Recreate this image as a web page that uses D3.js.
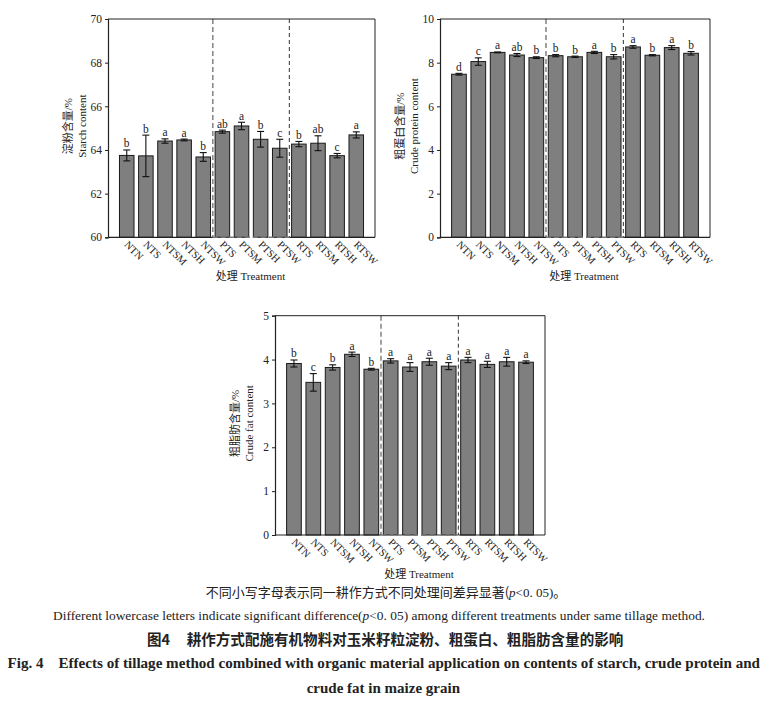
<!DOCTYPE html>
<html>
<head>
<meta charset="utf-8">
<script src="https://cdn.jsdelivr.net/npm/d3@7"></script>
<style>
  html, body { margin: 0; padding: 0; background: #fff; }
  svg { display: block; }
  text { fill: #222; }
</style>
</head>
<body>
<svg id="chart" width="770" height="703"></svg>
<script>
// ---------------- data ----------------
const treatments = ["NTN","NTS","NTSM","NTSH","NTSW","PTS","PTSM","PTSH","PTSW","RTS","RTSM","RTSH","RTSW"];

const starchMean    = [63.75, 63.73, 64.41, 64.46, 63.68, 64.84, 65.10, 64.49, 64.08, 64.27, 64.31, 63.74, 64.69];
const starchErr     = [0.25, 0.95, 0.10, 0.04, 0.20, 0.07, 0.17, 0.36, 0.41, 0.12, 0.34, 0.10, 0.14];
const starchLetters = ["b","b","a","a","b","ab","a","b","c","b","ab","c","a"];
const starchTicks   = [60, 62, 64, 66, 68, 70];

const proteinMean    = [7.47, 8.05, 8.47, 8.35, 8.23, 8.32, 8.27, 8.47, 8.27, 8.72, 8.34, 8.69, 8.43];
const proteinErr     = [0.04, 0.17, 0.02, 0.07, 0.04, 0.05, 0.03, 0.05, 0.10, 0.06, 0.03, 0.09, 0.08];
const proteinLetters = ["d","c","a","ab","b","b","b","a","b","a","b","a","b"];
const proteinTicks   = [0, 2, 4, 6, 8, 10];

const fatMean    = [3.91, 3.48, 3.82, 4.12, 3.78, 3.97, 3.83, 3.95, 3.85, 3.99, 3.89, 3.95, 3.94];
const fatErr     = [0.08, 0.20, 0.06, 0.05, 0.02, 0.05, 0.10, 0.08, 0.08, 0.06, 0.07, 0.10, 0.03];
const fatLetters = ["b","c","b","a","b","a","a","a","a","a","a","a","a"];
const fatTicks   = [0, 1, 2, 3, 4, 5];

const groupBreaks = ["PTS", "RTS"];   // first treatment of each new tillage group

const xTitle = "处理 Treatment";

// ---------------- drawing ----------------
const svg = d3.select("#chart");
const SERIF = "'Liberation Serif','Times New Roman','Noto Sans CJK SC',serif";
const CJK = "'Noto Sans CJK SC','Liberation Serif',sans-serif";

function drawPanel(cfg) {
  const { left, top, width, height, ticks, mean, err, letters, yTitle } = cfg;
  const g = svg.append("g").attr("transform", `translate(${left},${top})`);

  const x = d3.scaleBand().domain(treatments).range([0, width])
    .paddingInner(0.24).paddingOuter(0.6);
  const y = d3.scaleLinear().domain([ticks[0], ticks[ticks.length - 1]]).range([height, 0]);

  const rows = treatments.map((t, i) => ({ t, m: mean[i], e: err[i], l: letters[i] }));

  // bars
  g.selectAll("rect.bar").data(rows).join("rect")
    .attr("class", "bar")
    .attr("x", d => x(d.t))
    .attr("width", x.bandwidth())
    .attr("y", d => y(d.m))
    .attr("height", d => y(ticks[0]) - y(d.m))
    .attr("fill", "#7f7f7f")
    .attr("stroke", "#1a1a1a")
    .attr("stroke-width", 1);

  // error bars
  const cap = 3.5;
  const eb = g.selectAll("g.err").data(rows).join("g").attr("class", "err")
    .attr("stroke", "#111").attr("stroke-width", 1.1);
  eb.append("line")
    .attr("x1", d => x(d.t) + x.bandwidth() / 2).attr("x2", d => x(d.t) + x.bandwidth() / 2)
    .attr("y1", d => y(d.m + d.e)).attr("y2", d => y(d.m - d.e));
  eb.append("line")
    .attr("x1", d => x(d.t) + x.bandwidth() / 2 - cap).attr("x2", d => x(d.t) + x.bandwidth() / 2 + cap)
    .attr("y1", d => y(d.m + d.e)).attr("y2", d => y(d.m + d.e));
  eb.append("line")
    .attr("x1", d => x(d.t) + x.bandwidth() / 2 - cap).attr("x2", d => x(d.t) + x.bandwidth() / 2 + cap)
    .attr("y1", d => y(d.m - d.e)).attr("y2", d => y(d.m - d.e));

  // significance letters
  g.selectAll("text.sig").data(rows).join("text")
    .attr("class", "sig")
    .attr("x", d => x(d.t) + x.bandwidth() / 2)
    .attr("y", d => y(d.m + d.e) - 2.5)
    .attr("text-anchor", "middle")
    .attr("font-family", SERIF)
    .attr("font-size", 11.5)
    .text(d => d.l);

  // group separators (dashed)
  const sepX = groupBreaks.map(t => x(t) - x.step() * x.paddingInner() / 2);
  g.append("line")
    .attr("x1", sepX[0]).attr("x2", sepX[0]).attr("y1", 0).attr("y2", height)
    .attr("stroke", "#8a8a8a").attr("stroke-width", 1.6).attr("stroke-dasharray", "5,3");
  g.append("line")
    .attr("x1", sepX[1]).attr("x2", sepX[1]).attr("y1", 0).attr("y2", height)
    .attr("stroke", "#333").attr("stroke-width", 1).attr("stroke-dasharray", "4,3");

  // frame
  g.append("line").attr("x1", 0).attr("x2", width).attr("y1", 0).attr("y2", 0)
    .attr("stroke", "#222").attr("stroke-width", 1);
  g.append("line").attr("x1", width).attr("x2", width).attr("y1", 0).attr("y2", height)
    .attr("stroke", "#222").attr("stroke-width", 1);
  // bottom: solid outside middle group, dashed grey in middle group
  g.append("line").attr("x1", 0).attr("x2", sepX[0]).attr("y1", height).attr("y2", height)
    .attr("stroke", "#222").attr("stroke-width", 1.2);
  g.append("line").attr("x1", sepX[1]).attr("x2", width).attr("y1", height).attr("y2", height)
    .attr("stroke", "#222").attr("stroke-width", 1.2);
  g.append("line").attr("x1", sepX[0]).attr("x2", sepX[1]).attr("y1", height).attr("y2", height)
    .attr("stroke", "#777").attr("stroke-width", 1.4).attr("stroke-dasharray", "5,3");

  // y axis
  const ya = g.append("g").call(d3.axisLeft(y).tickValues(ticks).tickSize(3).tickPadding(3).tickFormat(d3.format("d")));
  ya.select(".domain").attr("stroke", "#222").attr("stroke-width", 1.2);
  ya.selectAll(".tick line").attr("stroke", "#222");
  ya.selectAll(".tick text").attr("font-family", SERIF).attr("font-size", 11.5).attr("fill", "#222");

  // x tick labels (rotated)
  g.selectAll("text.xt").data(treatments).join("text")
    .attr("class", "xt")
    .attr("transform", d => `translate(${x(d) + x.bandwidth() / 2 - 3},${height + 8}) rotate(45)`)
    .attr("text-anchor", "start")
    .attr("font-family", SERIF)
    .attr("font-size", 10.5)
    .text(d => d);

  // x title
  g.append("text")
    .attr("x", width / 2 + 9).attr("y", height + 39)
    .attr("text-anchor", "middle").attr("dominant-baseline", "central")
    .attr("font-family", SERIF).attr("font-size", 11)
    .text(xTitle);

  // y title (two lines)
  yTitle.forEach((s, i) => {
    g.append("text")
      .attr("transform", `translate(${-40 + i * 13.5},${height / 2 - 2}) rotate(-90)`)
      .attr("text-anchor", "middle").attr("dominant-baseline", "central")
      .attr("font-family", SERIF).attr("font-size", 11)
      .text(s);
  });
}

drawPanel({ left: 108, top: 19, width: 267, height: 218.3, ticks: starchTicks,
  mean: starchMean, err: starchErr, letters: starchLetters, yTitle: ["淀粉含量/%", "Starch content"] });
drawPanel({ left: 440, top: 19, width: 270, height: 218.3, ticks: proteinTicks,
  mean: proteinMean, err: proteinErr, letters: proteinLetters, yTitle: ["粗蛋白含量/%", "Crude protein content"] });
drawPanel({ left: 275, top: 315.7, width: 270, height: 219.3, ticks: fatTicks,
  mean: fatMean, err: fatErr, letters: fatLetters, yTitle: ["粗脂肪含量/%", "Crude fat content"] });

// ---------------- captions ----------------
const cap1 = svg.append("text").attr("x", 386).attr("y", 597).attr("text-anchor", "middle")
  .attr("font-family", CJK).attr("font-size", 13).attr("fill", "#222");
cap1.append("tspan").text("不同小写字母表示同一耕作方式不同处理间差异显著(");
cap1.append("tspan").attr("font-family", SERIF).attr("font-style", "italic").text("p");
cap1.append("tspan").attr("font-family", SERIF).text("<0. 05)");
cap1.append("tspan").text("。");

const cap2 = svg.append("text").attr("x", 53).attr("y", 620)
  .attr("font-family", SERIF).attr("font-size", 12).attr("fill", "#222")
  .attr("textLength", 652).attr("lengthAdjust", "spacingAndGlyphs");
cap2.append("tspan").text("Different lowercase letters indicate significant difference(");
cap2.append("tspan").attr("font-style", "italic").text("p");
cap2.append("tspan").text("<0. 05) among different treatments under same tillage method.");

svg.append("text").attr("x", 147).attr("y", 645)
  .attr("font-family", CJK).attr("font-weight", "bold").attr("font-size", 14.5).attr("fill", "#111")
  .text("图4");
svg.append("text").attr("x", 186.7).attr("y", 645)
  .attr("font-family", CJK).attr("font-weight", "bold").attr("font-size", 14.5).attr("fill", "#111")
  .attr("textLength", 436.6).attr("lengthAdjust", "spacingAndGlyphs")
  .text("耕作方式配施有机物料对玉米籽粒淀粉、粗蛋白、粗脂肪含量的影响");

svg.append("text").attr("x", 7.5).attr("y", 668)
  .attr("font-family", SERIF).attr("font-weight", "bold").attr("font-size", 15).attr("fill", "#111")
  .attr("textLength", 36).attr("lengthAdjust", "spacingAndGlyphs")
  .text("Fig. 4");
svg.append("text").attr("x", 58.5).attr("y", 668)
  .attr("font-family", SERIF).attr("font-weight", "bold").attr("font-size", 15).attr("fill", "#111")
  .attr("textLength", 701.5).attr("lengthAdjust", "spacingAndGlyphs")
  .text("Effects of tillage method combined with organic material application on contents of starch, crude protein and");
svg.append("text").attr("x", 306.7).attr("y", 693)
  .attr("font-family", SERIF).attr("font-weight", "bold").attr("font-size", 15).attr("fill", "#111")
  .attr("textLength", 153.3).attr("lengthAdjust", "spacingAndGlyphs")
  .text("crude fat in maize grain");
</script>
</body>
</html>
